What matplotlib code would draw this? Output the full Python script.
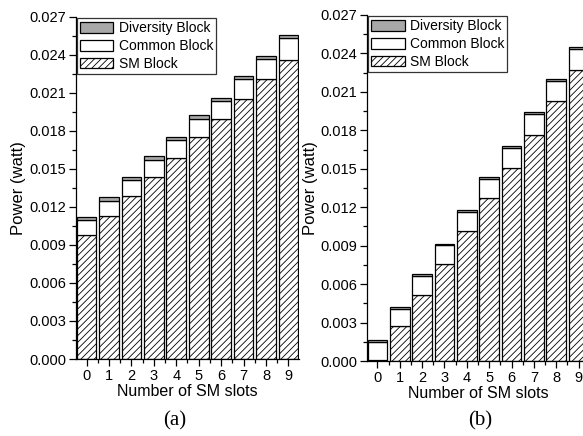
import matplotlib
matplotlib.use('Agg')
import matplotlib.pyplot as plt
import numpy as np
from matplotlib.patches import Patch
from matplotlib.ticker import MultipleLocator

## data
slots = [0, 1, 2, 3, 4, 5, 6, 7, 8, 9]

# (a)
sm_a = [0.00979, 0.0113, 0.01289, 0.01439, 0.01587, 0.01751, 0.01891, 0.0205, 0.02211, 0.02359]
common_a = [0.00119, 0.00119, 0.00124, 0.00135, 0.00138, 0.00146, 0.00146, 0.00158, 0.00156, 0.00174]
div_a = [0.00021, 0.00029, 0.00026, 0.00029, 0.00029, 0.00026, 0.00026, 0.00029, 0.00029, 0.00027]

# (b)
sm_b = [0.0001, 0.0027, 0.00517, 0.00759, 0.01018, 0.01273, 0.01507, 0.01767, 0.02031, 0.02271]
common_b = [0.00136, 0.00133, 0.00143, 0.00143, 0.00146, 0.00148, 0.00156, 0.00161, 0.00156, 0.0016]
div_b = [0.00015, 0.00018, 0.00016, 0.00013, 0.00016, 0.00013, 0.00013, 0.00012, 0.00014, 0.00016]

labels = ['Diversity Block', 'Common Block', 'SM Block']
captions = ['(a)', '(b)']

plt.rcParams['font.family'] = ['Liberation Sans', 'DejaVu Sans']
plt.rcParams['hatch.linewidth'] = 0.6

fig = plt.figure(figsize=(5.83, 4.36), dpi=100)
W, H = 583., 436.
# axes boxes in pixels: left, top, right, bottom
boxes = [(76, 17, 299, 359), (367, 15, 589, 361)]
data = [(sm_a, common_a, div_a), (sm_b, common_b, div_b)]
cap_x = [175, 480]

for k in range(2):
    l, t, r, b = boxes[k]
    ax = fig.add_axes([l / W, 1 - b / H, (r - l) / W, (b - t) / H])
    sm, com, div = data[k]
    sm = np.array(sm)
    com = np.array(com)
    div = np.array(div)
    w = 0.88
    ax.bar(slots, sm, w, color='white', edgecolor='black', hatch='/////', lw=0.9)
    ax.bar(slots, com, w, bottom=sm, color='white', edgecolor='black', lw=0.9)
    ax.bar(slots, div, w, bottom=sm + com, color='#a8a8a8', edgecolor='black', lw=0.9)

    ax.set_xlim(-0.47, 9.47)
    ax.set_ylim(0, 0.027)
    ax.yaxis.set_major_locator(MultipleLocator(0.003))
    ax.yaxis.set_minor_locator(MultipleLocator(0.0015))
    ax.xaxis.set_major_locator(MultipleLocator(1))
    ax.xaxis.set_minor_locator(MultipleLocator(0.5))
    ax.yaxis.set_major_formatter(matplotlib.ticker.FormatStrFormatter('%.3f'))
    ax.tick_params(which='major', direction='out', length=5, width=0.9, labelsize=10.5, pad=2)
    ax.tick_params(which='minor', direction='out', length=3, width=0.9)
    for s in ['top', 'right']:
        ax.spines[s].set_visible(False)
    ax.spines['left'].set_linewidth(0.9)
    ax.spines['bottom'].set_linewidth(0.9)

    ax.set_ylabel('Power (watt)', fontsize=12, labelpad=2)
    ax.set_xlabel('Number of SM slots', fontsize=11.5, labelpad=1)

    handles = [Patch(facecolor='#a8a8a8', edgecolor='black', lw=0.9),
               Patch(facecolor='white', edgecolor='black', lw=0.9),
               Patch(facecolor='white', edgecolor='black', hatch='/////', lw=0.9)]
    leg = ax.legend(handles, labels, loc='upper left', bbox_to_anchor=(0.0, 1.0),
                    fontsize=10, frameon=True, fancybox=False, edgecolor='black',
                    borderpad=0.2, labelspacing=0.28, handlelength=2.4, handleheight=0.8,
                    handletextpad=0.4, borderaxespad=0.1)
    leg.get_frame().set_linewidth(0.9)

    fig.text(cap_x[k] / W, 1 - 421 / H, captions[k], ha='center', va='center',
             fontsize=15, family='Liberation Serif')

fig.savefig('out.png', dpi=100)
